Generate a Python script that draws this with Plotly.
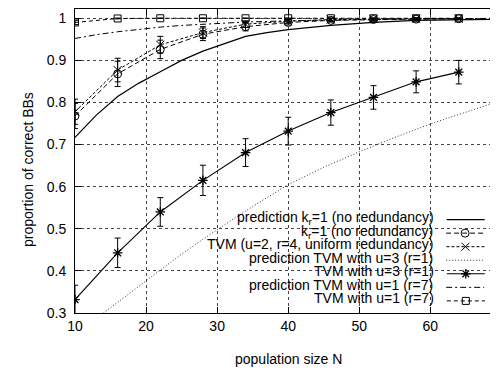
import plotly.graph_objects as go

# ---------------- data ----------------
N_pts = [10, 16, 22, 28, 34, 40, 46, 52, 58, 64]

kr1_vals = [0.768, 0.868, 0.926, 0.962, 0.980, 0.990, 0.995, 0.997, 0.998, 0.999]
kr1_err = [0.030, 0.030, 0.022, 0.015, 0.010, 0.006, 0.004, 0.003, 0.002, 0.002]

u2_vals = [0.778, 0.877, 0.937, 0.966, 0.986, 0.993, 0.997, 0.998, 0.999, 0.999]
u2_err = [0.030, 0.028, 0.020, 0.014, 0.008, 0.005, 0.003, 0.002, 0.002, 0.001]

u3_vals = [0.332, 0.443, 0.540, 0.615, 0.681, 0.732, 0.776, 0.812, 0.849, 0.872]
u3_err = [0.034, 0.035, 0.034, 0.036, 0.033, 0.033, 0.030, 0.028, 0.026, 0.028]

u1_vals = [0.990, 0.9995, 1.0, 1.0, 1.0, 1.0, 1.0, 1.0, 1.0, 1.0]
u1_err = [0.005, 0.001, 0.0005, 0.0005, 0.0005, 0.0005, 0.0005, 0.0005, 0.0005, 0.0005]

N_pred_kr1 = [10, 13, 16, 19, 22, 25, 28, 31, 34, 37, 40, 46, 52, 58, 64, 70]
pred_kr1 = [0.717, 0.770, 0.814, 0.846, 0.873, 0.900, 0.922, 0.940, 0.957, 0.966,
            0.973, 0.983, 0.990, 0.995, 0.997, 0.998]

N_pred_u3 = [14, 17, 20, 25, 30, 35, 40, 45, 50, 55, 60, 65, 70]
pred_u3 = [0.300, 0.338, 0.375, 0.440, 0.498, 0.553, 0.605, 0.646, 0.683, 0.717,
           0.749, 0.778, 0.805]

N_pred_u1 = [10, 13, 16, 19, 22, 25, 28, 31, 34, 40, 46, 52, 58, 64, 70]
pred_u1 = [0.952, 0.961, 0.968, 0.974, 0.979, 0.983, 0.986, 0.989, 0.991, 0.994,
           0.996, 0.998, 0.999, 0.999, 1.0]

labels = [
    "prediction k<sub>r</sub>=1 (no redundancy)",
    "k<sub>r</sub>=1 (no redundancy)",
    "TVM (u=2, r=4, uniform redundancy)",
    "prediction TVM with u=3 (r=1)",
    "TVM with u=3 (r=1)",
    "prediction TVM with u=1 (r=7)",
    "TVM with u=1 (r=7)",
]

x_ticks = [10, 20, 30, 40, 50, 60, 70]
y_ticks = [0.3, 0.4, 0.5, 0.6, 0.7, 0.8, 0.9, 1.0]
y_ticktext = ["0.3", "0.4", "0.5", "0.6", "0.7", "0.8", "0.9", "1"]

# ---------------- figure ----------------
FONT = "Liberation Sans, Arial, Helvetica, sans-serif"
FS = 14
fig = go.Figure()
legend_ids = ["legend"] + ["legend%d" % i for i in range(2, 8)]


def err(arr):
    return dict(type="data", array=arr, visible=True, thickness=1, width=3, color="black")


fig.add_trace(go.Scatter(
    x=N_pred_kr1, y=pred_kr1, mode="lines", name="", legend=legend_ids[0],
    line=dict(color="black", width=1.2)))

fig.add_trace(go.Scatter(
    x=N_pts, y=kr1_vals, mode="lines+markers", error_y=err(kr1_err), name="", legend=legend_ids[1],
    line=dict(color="black", width=1, dash="5px,3px"),
    marker=dict(symbol="circle-open", size=8, color="black", line=dict(width=1))))

fig.add_trace(go.Scatter(
    x=N_pts, y=u2_vals, mode="lines+markers", error_y=err(u2_err), name="", legend=legend_ids[2],
    line=dict(color="black", width=1, dash="3px,2px"),
    marker=dict(symbol="x-thin-open", size=8, color="black", line=dict(width=1, color="black"))))

fig.add_trace(go.Scatter(
    x=N_pred_u3, y=pred_u3, mode="lines", name="", legend=legend_ids[3],
    line=dict(color="#333333", width=1, dash="1px,2px")))

fig.add_trace(go.Scatter(
    x=N_pts, y=u3_vals, mode="lines+markers", error_y=err(u3_err), name="", legend=legend_ids[4],
    line=dict(color="black", width=1.1),
    marker=dict(symbol="asterisk-open", size=8, color="black", line=dict(width=1.3, color="black"))))

fig.add_trace(go.Scatter(
    x=N_pred_u1, y=pred_u1, mode="lines", name="", legend=legend_ids[5],
    line=dict(color="black", width=1, dash="6px,3px,2px,3px")))

fig.add_trace(go.Scatter(
    x=N_pts, y=u1_vals, mode="lines+markers", error_y=err(u1_err), name="", legend=legend_ids[6],
    line=dict(color="black", width=1, dash="4px,3px"),
    marker=dict(symbol="square-open", size=7, color="black", line=dict(width=1))))

# page body has an 8px margin; work in window pixels and shift
OFF = 8
WIN_W, WIN_H = 498, 368
W, H = WIN_W - OFF, WIN_H - OFF
PL, PT, PB = 75, 9, 313          # plot left/top/bottom in window pixels
PR = WIN_W                        # plot area cut at window edge
X70 = 501.4                       # window pixel of N=70
L, T = PL - OFF, PT - OFF
R = (W + OFF) - PR
B = (H + OFF) - PB
plot_w = PR - PL
plot_h = PB - PT
x_right = 10 + (PR - PL) / (X70 - PL) * 60


def px(xw):
    return (xw - PL) / plot_w


def py(yw):
    return (PB - yw) / plot_h


ROW0, ROW_STEP = 220.0, 13.55     # legend row centres (window px)
layout_legends = {}
for i, lid in enumerate(legend_ids):
    layout_legends[lid] = dict(
        x=px(495), y=py(ROW0 + i * ROW_STEP), xanchor="right", yanchor="middle",
        bgcolor="rgba(0,0,0,0)", borderwidth=0,
        font=dict(family=FONT, size=FS, color="black"),
        itemwidth=38, tracegroupgap=0,
        title=dict(text=labels[i], side="left", font=dict(family=FONT, size=FS, color="black")),
    )

fig.update_layout(
    width=W, height=H,
    margin=dict(l=L, r=R, t=T, b=B, pad=0, autoexpand=False),
    paper_bgcolor="white", plot_bgcolor="white",
    font=dict(family=FONT, size=FS, color="black"),
    showlegend=True,
    xaxis=dict(
        range=[10, x_right], tickvals=x_ticks[:-1], ticks="inside", ticklen=6,
        tickcolor="black", showline=True, linecolor="black", linewidth=1, mirror="allticks",
        showgrid=True, gridcolor="#444444", griddash="dot", gridwidth=1, zeroline=False,
        automargin=False, tickfont=dict(size=FS),
    ),
    yaxis=dict(
        range=[0.3, 1.022], tickvals=y_ticks, ticktext=y_ticktext,
        ticks="inside", ticklen=6, tickcolor="black", showline=True, linecolor="black", linewidth=1,
        mirror="allticks", showgrid=True, gridcolor="#444444", griddash="dot", gridwidth=1,
        zeroline=False, automargin=False, tickfont=dict(size=FS), ticklabelstandoff=5,
    ),
    shapes=[dict(
        type="rect", xref="paper", yref="paper",
        x0=px(165), x1=px(495), y0=py(312), y1=py(212),
        fillcolor="white", line=dict(width=0), layer="between")],
    annotations=[
        dict(text="70", xref="paper", yref="paper", x=px(X70), y=0,
             yanchor="top", xanchor="center", yshift=-6, showarrow=False,
             font=dict(family=FONT, size=FS, color="black")),
        dict(text="population size N", xref="paper", yref="paper", x=px(288), y=py(359),
             yanchor="middle", xanchor="center", showarrow=False,
             font=dict(family=FONT, size=FS, color="black")),
        dict(text="proportion of correct BBs", xref="paper", yref="paper", x=px(28), y=py(170),
             xanchor="center", yanchor="middle", textangle=-90,
             showarrow=False, font=dict(family=FONT, size=FS, color="black")),
    ],
    **layout_legends,
)

fig.write_html("out.html")
